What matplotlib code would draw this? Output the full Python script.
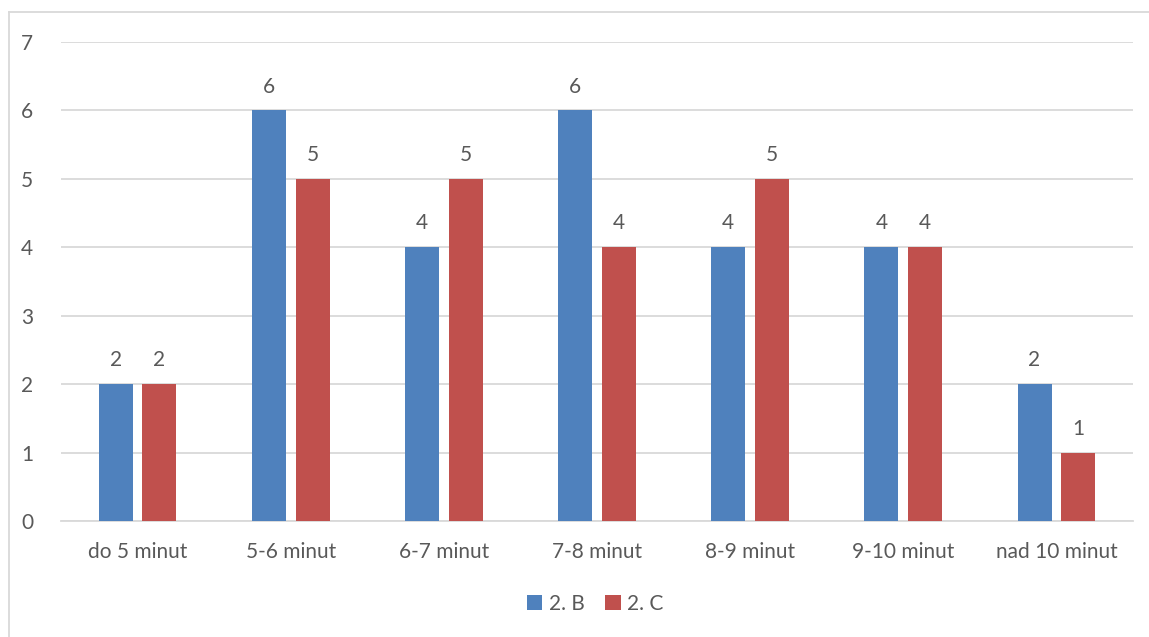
import numpy as np
import matplotlib.pyplot as plt
from matplotlib.lines import Line2D

categories = ['do 5 minut', '5-6 minut', '6-7 minut', '7-8 minut', '8-9 minut', '9-10 minut', 'nad 10 minut']
series_b = [2, 6, 4, 6, 4, 4, 2]
series_c = [2, 5, 5, 4, 5, 4, 1]
series_names = ['2. B', '2. C']
colors = ['#4f81bd', '#c0504d']

plt.rcParams['font.family'] = ['Lato', 'DejaVu Sans']
txt = '#595959'
grid = '#d9d9d9'
fs = 15

fig = plt.figure(figsize=(11.49, 6.37), dpi=100)
ax = fig.add_axes([61/1149, 1-521/637, (1133-61)/1149, (521-42)/637])

x = np.arange(len(categories))
w = 0.222
off = 0.143
bars_b = ax.bar(x - off, series_b, w, color=colors[0], label=series_names[0], zorder=3)
bars_c = ax.bar(x + off, series_c, w, color=colors[1], label=series_names[1], zorder=3)

for bars in (bars_b, bars_c):
    for r in bars:
        ax.annotate(str(int(r.get_height())), (r.get_x() + r.get_width()/2, r.get_height()),
                    xytext=(0, 10), textcoords='offset points', ha='center', va='bottom',
                    fontsize=fs, color=txt)

ax.set_xlim(-0.5, len(categories) - 0.5)
ax.set_ylim(0, 7)
ax.set_yticks(range(8))
ax.set_xticks(x)
ax.set_xticklabels(categories)
ax.yaxis.grid(True, color=grid, linewidth=1.3, zorder=0)
for s in ['top', 'right', 'left']:
    ax.spines[s].set_visible(False)
ax.spines['bottom'].set_color(grid)
ax.spines['bottom'].set_linewidth(1.3)
ax.tick_params(axis='both', length=0, labelsize=fs, labelcolor=txt)
ax.tick_params(axis='y', pad=20)
ax.tick_params(axis='x', pad=15)

ax.legend(loc='center', bbox_to_anchor=(595/1149, 1-604/637), bbox_transform=fig.transFigure,
          ncol=2, frameon=False, fontsize=fs, labelcolor=txt, handlelength=0.75, handleheight=0.75,
          handletextpad=0.3, columnspacing=1.0)

fig.add_artist(Line2D([9/1149, 9/1149], [0, 1-12/637], color=grid, linewidth=1.3))
fig.add_artist(Line2D([9/1149, 1], [1-12/637, 1-12/637], color=grid, linewidth=1.3))

fig.savefig('out.png', dpi=100)
